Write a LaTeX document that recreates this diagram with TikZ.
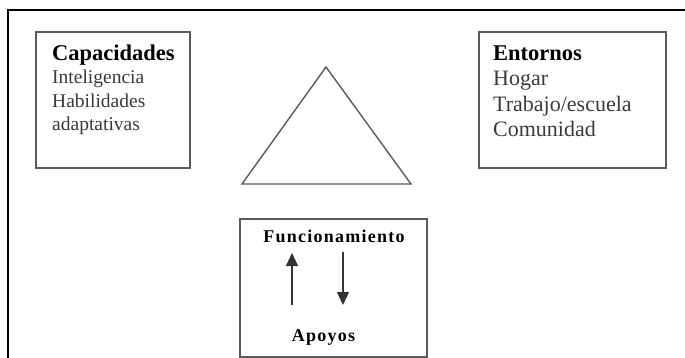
\documentclass[tikz,border=0pt]{standalone}
\usepackage{fontspec}
\setmainfont{Liberation Serif}
\usepackage{xcolor}
\usetikzlibrary{arrows.meta, positioning}

\definecolor{boxgray}{HTML}{5A5A5A}
\definecolor{textgray}{HTML}{3A3A3A}

\begin{document}
\begin{tikzpicture}[
    x=1pt, y=-1pt,
    box/.style={rectangle, draw=boxgray, line width=1.6pt, inner sep=0pt},
    title/.style={inner sep=0pt, anchor=base west, font=\fontsize{22.5}{25}\selectfont\bfseries},
    item/.style={inner sep=0pt, anchor=base west, text=textgray},
    spaced/.style={inner sep=0pt, anchor=base, font=\fontsize{18}{20}\selectfont\bfseries\addfontfeature{LetterSpace=7}},
    arrow/.style={-{Triangle[length=13pt, width=12pt]}, line width=1.1pt, draw=black!80},
]
\useasboundingbox (0,0) rectangle (685,358);

% Frame
\draw[line width=2.6pt] (8,358) -- (8,10) -- (685,10);

% Boxes
\node[box, minimum width=154pt, minimum height=136pt] (capbox) at (113,100) {};
\node[box, minimum width=187pt, minimum height=136pt] (entbox) at (572.5,100) {};
\node[box, minimum width=187pt, minimum height=138pt, anchor=north] (funbox) at (333.5,218) {};

% Triangle
\coordinate (apex) at (326,67);
\coordinate (baseL) at (242,184);
\coordinate (baseR) at (411,184);
\draw[line width=1.4pt, draw=boxgray] (apex) -- (baseR) -- (baseL) -- cycle;

% Capacidades
\node[title] (captitle) at (52,60.5) {Capacidades};
\foreach \t [count=\i] in {Inteligencia, Habilidades, adaptativas}
  \node[item, font=\fontsize{19.5}{22}\selectfont] (cap\i) at (52,{60.5+23.5*\i}) {\t};

% Entornos
\node[title] (enttitle) at (493,60.5) {Entornos};
\foreach \t [count=\i] in {Hogar, Trabajo/escuela, Comunidad}
  \node[item, font=\fontsize{22}{25}\selectfont] (ent\i) at (493,{60.5+25.5*\i}) {\t};

% Funcionamiento / Apoyos
\node[spaced] (fun) at (334,242) {Funcionamiento};
\node[spaced] (apo) at (323.5,341) {Apoyos};

\coordinate (upS) at (292,305);
\coordinate (upE) at (292,253);
\coordinate (dnS) at (343,252);
\coordinate (dnE) at (343,305);
\draw[arrow] (upS) -- (upE);
\draw[arrow] (dnS) -- (dnE);

\end{tikzpicture}
\end{document}
